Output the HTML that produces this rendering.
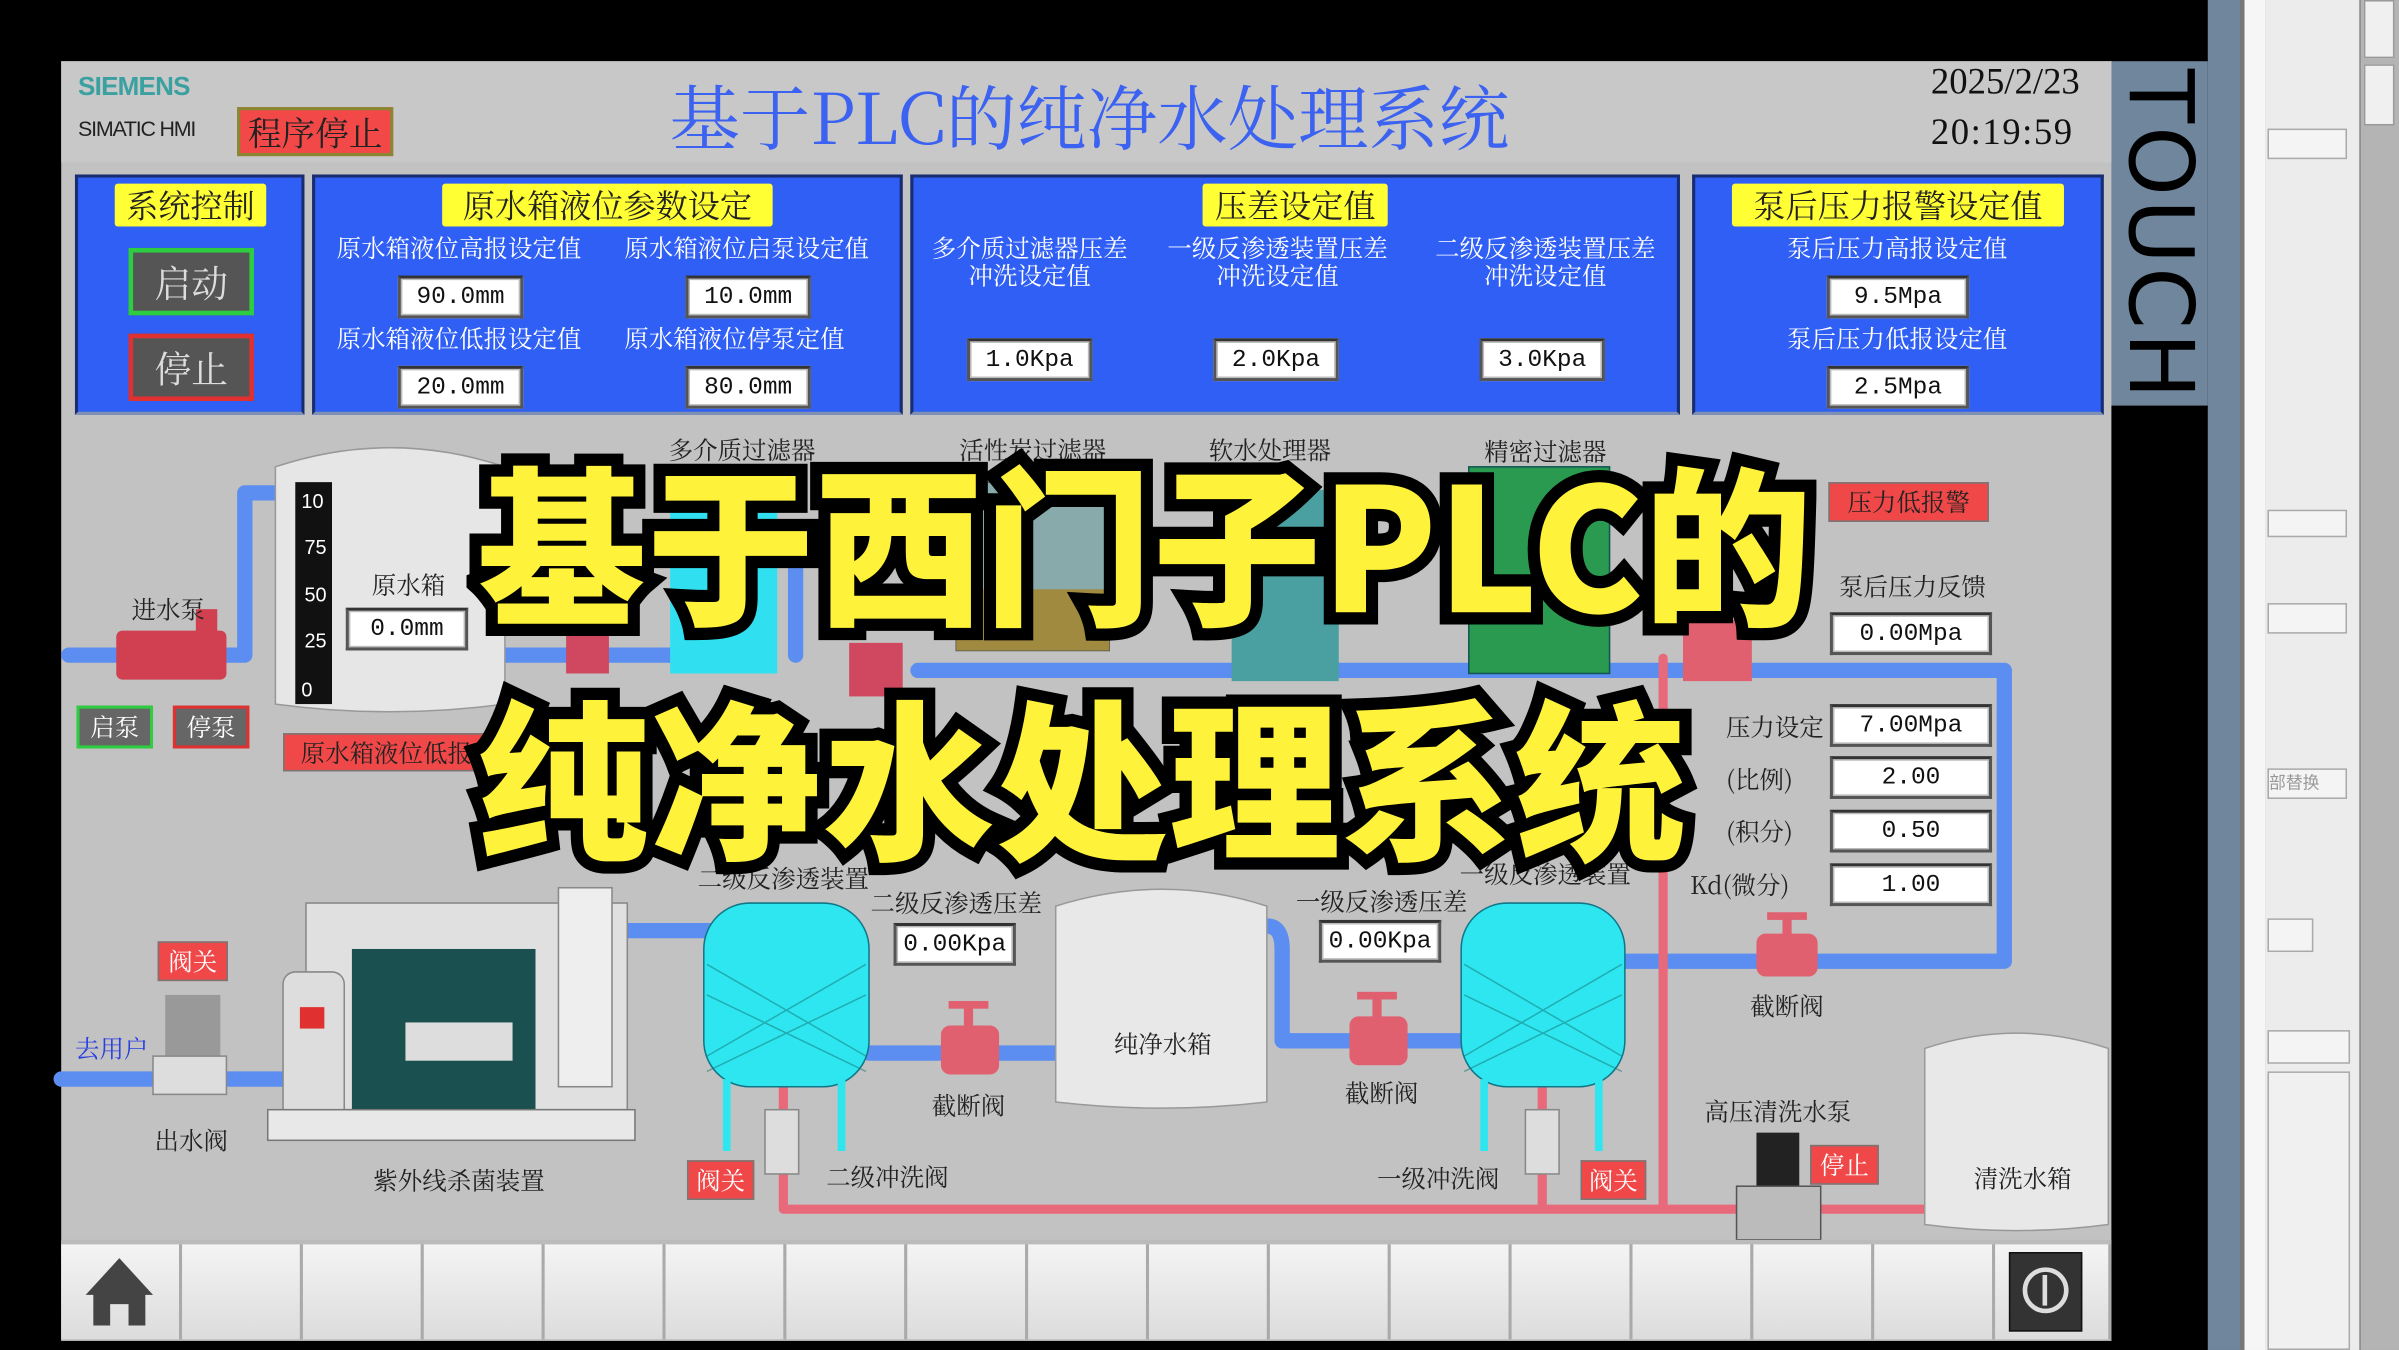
<!DOCTYPE html>
<html><head><meta charset="utf-8">
<style>
*{margin:0;padding:0;box-sizing:border-box}
body{width:2399px;height:1350px;overflow:hidden;background:#000;font-family:"Liberation Sans","Noto Sans CJK SC",sans-serif}
#w{position:absolute;left:0;top:0;width:1568px;height:882px;transform:scale(1.5300,1.5306);transform-origin:0 0;background:#000}
.a{position:absolute}
.t{position:absolute;white-space:nowrap;font-family:"Noto Serif CJK SC","Liberation Serif",serif;color:#222;font-size:16px;transform:translateX(-50%)}
.pn{position:absolute;background:#2f5ff5;border:2px solid #1a2c70;border-bottom-color:#8090b0}
.yl{position:absolute;background:#ffff33;color:#222;font-family:"Noto Serif CJK SC",serif;font-size:21px;text-align:center;line-height:28px;border-radius:2px}
.wl{position:absolute;color:#fff;font-family:"Noto Serif CJK SC",serif;font-size:16px;white-space:nowrap;transform:translateX(-50%);text-align:center;line-height:18px}
.bx{position:absolute;background:#fff;border:2px solid #555;border-top-color:#333;color:#111;font-family:"Liberation Mono","Noto Serif CJK SC",monospace;font-size:16px;text-align:center;box-shadow:inset 0 0 0 1px #bbb}
.rd{position:absolute;background:#f04848;color:#fff;border:1px solid #777;font-family:"Noto Serif CJK SC",serif;font-size:16px;text-align:center}
.big{position:absolute;white-space:nowrap;font-family:"Noto Sans CJK SC",sans-serif;font-weight:900;color:#fff23a;-webkit-text-stroke:16px #000;paint-order:stroke fill}
.btm{position:absolute;top:813px;height:62px;background:linear-gradient(#f4f4f4,#dcdcdc);border-right:2px solid #aaa}
</style></head><body>
<div id="w">
<!-- right side -->
<div class="a" style="left:1379px;top:40px;width:64px;height:225px;background:#6f869c"></div>
<div class="a" style="left:1383px;top:45px;width:60px;height:220px;font-size:58px;color:#000;transform-origin:0 0;"><div style="transform:rotate(90deg) translate(0,-58px);transform-origin:0 0;width:220px;line-height:58px;font-family:'DejaVu Sans',sans-serif;letter-spacing:2px">TOUCH</div></div>
<div class="a" style="left:1443px;top:0;width:21px;height:882px;background:#6f869c"></div>
<div class="a" style="left:1464px;top:0;width:17px;height:882px;background:#f6f6f6;border-left:3px solid #777"></div>
<div class="a" style="left:1481px;top:0;width:62px;height:882px;background:#ececec;border-right:1px solid #888"></div>
<div class="a" style="left:1543px;top:0;width:25px;height:882px;background:#b4b4b4"></div>
<div class="a" style="left:1545px;top:0;width:20px;height:38px;background:#f0f0f0;border:1px solid #999"></div>
<div class="a" style="left:1545px;top:42px;width:20px;height:40px;background:#f0f0f0;border:1px solid #999"></div>
<div class="a" style="left:1482px;top:84px;width:52px;height:20px;background:#f4f4f4;border:1px solid #aaa"></div>
<div class="a" style="left:1482px;top:333px;width:52px;height:18px;background:#f4f4f4;border:1px solid #aaa"></div>
<div class="a" style="left:1482px;top:394px;width:52px;height:20px;background:#f4f4f4;border:1px solid #aaa"></div>
<div class="a" style="left:1482px;top:502px;width:52px;height:20px;background:#f4f4f4;border:1px solid #aaa;font-size:11px;color:#999">部替换</div>
<div class="a" style="left:1482px;top:600px;width:30px;height:22px;background:#f4f4f4;border:1px solid #aaa"></div>
<div class="a" style="left:1482px;top:673px;width:54px;height:22px;background:#f4f4f4;border:1px solid #aaa"></div>
<div class="a" style="left:1482px;top:700px;width:54px;height:182px;background:#f0f0f0;border:1px solid #aaa"></div>

<!-- HMI -->
<div class="a" style="left:40px;top:40px;width:1340px;height:836px;background:#c2c2c2"></div>
<div class="a" style="left:40px;top:40px;width:1340px;height:66px;background:#c8c8c8"></div>
<div class="a" style="left:51px;top:47px;font-size:17px;font-weight:bold;color:#3aa0a0;letter-spacing:-0.5px">SIEMENS</div>
<div class="a" style="left:51px;top:76px;font-size:14px;color:#222;letter-spacing:-0.8px">SIMATIC HMI</div>
<div class="rd" style="left:155px;top:70px;width:102px;height:32px;font-size:22px;line-height:30px;background:#f24848;color:#222;border:2px solid #883">程序停止</div>
<div class="t" style="left:712px;top:42px;font-size:46px;color:#3b62f0;">基于PLC的纯净水处理系统</div>
<div class="a" style="left:1262px;top:41px;font-size:24px;font-family:'Liberation Serif',serif;color:#111">2025/2/23</div>
<div class="a" style="left:1262px;top:74px;font-size:24px;font-family:'Liberation Serif',serif;color:#111;letter-spacing:1px">20:19:59</div>

<!-- panels -->
<div class="pn" style="left:49px;top:114px;width:150px;height:157px"></div>
<div class="pn" style="left:204px;top:114px;width:386px;height:157px"></div>
<div class="pn" style="left:595px;top:114px;width:503px;height:157px"></div>
<div class="pn" style="left:1106px;top:114px;width:269px;height:157px"></div>
<div class="yl" style="left:75px;top:120px;width:99px">系统控制</div>
<div class="yl" style="left:289px;top:120px;width:216px">原水箱液位参数设定</div>
<div class="yl" style="left:786px;top:120px;width:121px">压差设定值</div>
<div class="yl" style="left:1132px;top:120px;width:217px">泵后压力报警设定值</div>
<div class="a" style="left:84px;top:162px;width:82px;height:44px;background:#555;border:3px solid #2ecc40;color:#ddd;font-family:'Noto Serif CJK SC',serif;font-size:24px;text-align:center;line-height:38px">启动</div>
<div class="a" style="left:84px;top:218px;width:82px;height:44px;background:#555;border:3px solid #e03030;color:#ddd;font-family:'Noto Serif CJK SC',serif;font-size:24px;text-align:center;line-height:38px">停止</div>
<div class="wl" style="left:300px;top:153px">原水箱液位高报设定值</div>
<div class="wl" style="left:488px;top:153px">原水箱液位启泵设定值</div>
<div class="wl" style="left:300px;top:212px">原水箱液位低报设定值</div>
<div class="wl" style="left:480px;top:212px">原水箱液位停泵定值</div>
<div class="bx" style="left:260px;top:180px;width:82px;height:28px;line-height:24px">90.0mm</div>
<div class="bx" style="left:448px;top:180px;width:82px;height:28px;line-height:24px">10.0mm</div>
<div class="bx" style="left:260px;top:239px;width:82px;height:28px;line-height:24px">20.0mm</div>
<div class="bx" style="left:448px;top:239px;width:82px;height:28px;line-height:24px">80.0mm</div>
<div class="wl" style="left:673px;top:153px">多介质过滤器压差<br>冲洗设定值</div>
<div class="wl" style="left:835px;top:153px">一级反渗透装置压差<br>冲洗设定值</div>
<div class="wl" style="left:1010px;top:153px">二级反渗透装置压差<br>冲洗设定值</div>
<div class="bx" style="left:632px;top:221px;width:82px;height:28px;line-height:24px">1.0Kpa</div>
<div class="bx" style="left:793px;top:221px;width:82px;height:28px;line-height:24px">2.0Kpa</div>
<div class="bx" style="left:967px;top:221px;width:82px;height:28px;line-height:24px">3.0Kpa</div>
<div class="wl" style="left:1240px;top:153px">泵后压力高报设定值</div>
<div class="wl" style="left:1240px;top:212px">泵后压力低报设定值</div>
<div class="bx" style="left:1194px;top:180px;width:93px;height:28px;line-height:24px">9.5Mpa</div>
<div class="bx" style="left:1194px;top:239px;width:93px;height:28px;line-height:24px">2.5Mpa</div>

<!-- diagram -->
<svg class="a" style="left:0;top:0" width="1568" height="882" viewBox="0 0 1568 882">
<g fill="none" stroke-linecap="round" stroke-linejoin="round">
<path d="M45 428 H160 V322 H182" stroke="#5b8ef0" stroke-width="10"/>
<path d="M330 428 H440 M520 428 V370 M600 438 H1310 V628 H1062" stroke="#5b8ef0" stroke-width="10"/>
<path d="M40 705 H185 M410 608 H465 M568 688 H690 M828 605 Q838 605 838 620 V680 H955" stroke="#5b8ef0" stroke-width="10"/>
<path d="M1087 430 V790 M512 710 V790 H1260 M1008 710 V790" stroke="#e86a7a" stroke-width="6"/>
</g>
<path d="M180 305 Q255 280 330 305 V460 Q255 470 180 460 Z" fill="#e6e6e6" stroke="#999"/>
<rect x="193" y="315" width="24" height="145" fill="#111"/>
<g fill="#fff" font-size="13" font-family="Liberation Sans"><text x="197" y="332">10</text><text x="199" y="362">75</text><text x="199" y="393">50</text><text x="199" y="423">25</text><text x="197" y="455">0</text></g>
<rect x="76" y="412" width="72" height="32" rx="4" fill="#d04050"/><rect x="128" y="398" width="14" height="20" fill="#d04050"/>
<rect x="438" y="320" width="70" height="120" fill="#30e0f0"/>
<rect x="625" y="315" width="100" height="110" fill="#8aa" stroke="#555"/><rect x="625" y="385" width="100" height="40" fill="#a08a40"/>
<rect x="805" y="320" width="70" height="125" fill="#4aa0a0"/>
<rect x="960" y="305" width="92" height="135" fill="#2a9a50" stroke="#155"/>
<rect x="370" y="410" width="28" height="30" fill="#d04860"/><rect x="555" y="420" width="35" height="35" fill="#d04860"/>
<rect x="1100" y="405" width="45" height="40" fill="#e06070"/>
<rect x="200" y="590" width="210" height="135" fill="#e0e0e0" stroke="#888"/>
<rect x="230" y="620" width="120" height="110" fill="#1a5050"/>
<rect x="265" y="668" width="70" height="25" fill="#ddd"/>
<rect x="185" y="635" width="40" height="100" rx="8" fill="#ddd" stroke="#888"/><rect x="196" y="658" width="16" height="14" fill="#e03030"/>
<rect x="365" y="580" width="35" height="130" fill="#eee" stroke="#888"/>
<rect x="175" y="725" width="240" height="20" fill="#e8e8e8" stroke="#777"/>
<rect x="108" y="650" width="36" height="40" fill="#999"/><rect x="100" y="690" width="48" height="25" fill="#ddd" stroke="#888"/>
<rect x="460" y="590" width="108" height="120" rx="30" fill="#2ee6f0" stroke="#178"/>
<rect x="955" y="590" width="107" height="120" rx="30" fill="#2ee6f0" stroke="#178"/>
<g stroke="#177" stroke-width="1" opacity=".5">
<path d="M462 630 L566 690 M462 690 L566 630 M462 650 L566 700 M462 700 L566 650"/>
<path d="M957 630 L1060 690 M957 690 L1060 630 M957 650 L1060 700 M957 700 L1060 650"/>
</g>
<g stroke="#2ee6f0" stroke-width="5"><path d="M475 705 V752 M550 705 V752 M970 705 V752 M1045 705 V752"/></g>
<rect x="500" y="725" width="22" height="42" fill="#ddd" stroke="#888"/><rect x="997" y="725" width="22" height="42" fill="#ddd" stroke="#888"/>
<path d="M690 592 Q760 570 828 592 V720 Q760 728 690 720 Z" fill="#e8e8e8" stroke="#999"/>
<path d="M1258 685 Q1318 665 1378 685 V800 Q1318 808 1258 800 Z" fill="#e8e8e8" stroke="#999"/>
<g fill="#e06070"><rect x="615" y="670" width="38" height="32" rx="6"/><rect x="630" y="656" width="6" height="16"/><rect x="620" y="654" width="26" height="5"/>
<rect x="882" y="664" width="38" height="32" rx="6"/><rect x="897" y="650" width="6" height="16"/><rect x="887" y="648" width="26" height="5"/>
<rect x="1148" y="610" width="40" height="28" rx="6"/><rect x="1165" y="598" width="6" height="14"/><rect x="1155" y="596" width="26" height="5"/></g>
<rect x="1148" y="740" width="28" height="35" fill="#222"/><rect x="1135" y="775" width="55" height="35" fill="#bbb" stroke="#555"/>
</svg>

<div class="t" style="left:110px;top:386px">进水泵</div>
<div class="a" style="left:50px;top:461px;width:50px;height:28px;background:#666;border:2px solid #2ecc40;color:#fff;font-family:'Noto Serif CJK SC',serif;text-align:center;line-height:24px">启泵</div>
<div class="a" style="left:113px;top:461px;width:50px;height:28px;background:#666;border:2px solid #e03030;color:#fff;font-family:'Noto Serif CJK SC',serif;text-align:center;line-height:24px">停泵</div>
<div class="t" style="left:267px;top:370px">原水箱</div>
<div class="bx" style="left:226px;top:397px;width:80px;height:28px;line-height:24px">0.0mm</div>
<div class="rd" style="left:185px;top:479px;width:135px;height:25px;line-height:23px;color:#222">原水箱液位低报</div>
<div class="t" style="left:485px;top:282px">多介质过滤器</div>
<div class="t" style="left:675px;top:282px">活性炭过滤器</div>
<div class="t" style="left:830px;top:282px">软水处理器</div>
<div class="t" style="left:1010px;top:283px">精密过滤器</div>
<div class="rd" style="left:1195px;top:315px;width:105px;height:26px;line-height:24px;color:#222">压力低报警</div>
<div class="t" style="left:1250px;top:371px">泵后压力反馈</div>
<div class="bx" style="left:1196px;top:400px;width:106px;height:28px;line-height:24px">0.00Mpa</div>
<div class="t" style="left:1160px;top:463px">压力设定</div>
<div class="t" style="left:1150px;top:497px">(比例)</div>
<div class="t" style="left:1150px;top:531px">(积分)</div>
<div class="t" style="left:1137px;top:566px">Kd(微分)</div>
<div class="bx" style="left:1196px;top:460px;width:106px;height:28px;line-height:24px">7.00Mpa</div>
<div class="bx" style="left:1196px;top:494px;width:106px;height:28px;line-height:24px">2.00</div>
<div class="bx" style="left:1196px;top:529px;width:106px;height:28px;line-height:24px">0.50</div>
<div class="bx" style="left:1196px;top:564px;width:106px;height:28px;line-height:24px">1.00</div>
<div class="rd" style="left:103px;top:615px;width:46px;height:26px;line-height:24px">阀关</div>
<div class="t" style="left:73px;top:673px;color:#2a40e0">去用户</div>
<div class="t" style="left:125px;top:733px">出水阀</div>
<div class="t" style="left:300px;top:759px">紫外线杀菌装置</div>
<div class="t" style="left:512px;top:562px">二级反渗透装置</div>
<div class="t" style="left:625px;top:578px">二级反渗透压差</div>
<div class="bx" style="left:584px;top:603px;width:80px;height:28px;line-height:24px">0.00Kpa</div>
<div class="t" style="left:633px;top:710px">截断阀</div>
<div class="t" style="left:760px;top:670px">纯净水箱</div>
<div class="t" style="left:903px;top:577px">一级反渗透压差</div>
<div class="bx" style="left:862px;top:601px;width:80px;height:28px;line-height:24px">0.00Kpa</div>
<div class="t" style="left:903px;top:702px">截断阀</div>
<div class="t" style="left:1010px;top:559px">一级反渗透装置</div>
<div class="t" style="left:1168px;top:645px">截断阀</div>
<div class="rd" style="left:449px;top:758px;width:44px;height:26px;line-height:24px">阀关</div>
<div class="t" style="left:580px;top:757px">二级冲洗阀</div>
<div class="t" style="left:940px;top:758px">一级冲洗阀</div>
<div class="rd" style="left:1033px;top:758px;width:43px;height:26px;line-height:24px">阀关</div>
<div class="t" style="left:1162px;top:714px">高压清洗水泵</div>
<div class="rd" style="left:1183px;top:748px;width:45px;height:26px;line-height:24px">停止</div>
<div class="t" style="left:1322px;top:758px">清洗水箱</div>

<!-- bottom bar -->
<div class="a" style="left:40px;top:810px;width:1340px;height:66px;background:#bbb"></div>
<div class="btm" style="left:40px;width:79px"></div><div class="btm" style="left:119px;width:79px"></div><div class="btm" style="left:198px;width:79px"></div><div class="btm" style="left:277px;width:79px"></div><div class="btm" style="left:356px;width:79px"></div><div class="btm" style="left:435px;width:79px"></div><div class="btm" style="left:514px;width:79px"></div><div class="btm" style="left:593px;width:79px"></div><div class="btm" style="left:672px;width:79px"></div><div class="btm" style="left:751px;width:79px"></div><div class="btm" style="left:830px;width:79px"></div><div class="btm" style="left:909px;width:79px"></div><div class="btm" style="left:988px;width:79px"></div><div class="btm" style="left:1067px;width:79px"></div><div class="btm" style="left:1146px;width:79px"></div><div class="btm" style="left:1225px;width:79px"></div><div class="btm" style="left:1304px;width:76px"></div>
<svg class="a" style="left:55px;top:820px" width="50" height="50"><path d="M23 2 L45 26 H40 V46 H29 V32 H17 V46 H6 V26 H1 Z" fill="#444"/></svg>
<div class="a" style="left:1313px;top:818px;width:48px;height:52px;background:#333;border:1px solid #111"></div>
<div class="a" style="left:1322px;top:828px;width:30px;height:30px;border:3px solid #ddd;border-radius:50%"></div>
<div class="a" style="left:1335px;top:833px;width:3px;height:20px;background:#ddd"></div>

<!-- overlay -->
<div class="big" style="left:312px;top:282px;font-size:112px;line-height:140px;letter-spacing:0;transform:scaleX(0.985);transform-origin:0 0">基于西门子PLC的</div>
<div class="big" style="left:312px;top:435px;font-size:112px;line-height:140px;letter-spacing:1px">纯净水处理系统</div>
</div>
</body></html>
